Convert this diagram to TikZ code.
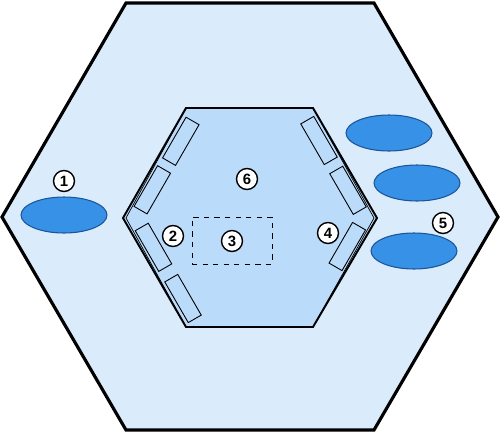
\documentclass[tikz,border=0pt]{standalone}
\usepackage{fontspec}
\setmainfont{Liberation Sans}
\usetikzlibrary{shapes.geometric}
\definecolor{outerblue}{HTML}{DAEBFC}
\definecolor{innerblue}{HTML}{BBDBFA}
\definecolor{poolblue}{HTML}{3791E6}
\definecolor{pooledge}{HTML}{1B5499}
\tikzset{numnode/.style={fill=white,circle,draw,line width=0.8pt,inner sep=0pt,minimum size=0.42cm,font=\fontsize{8.5}{10}\selectfont\bfseries}}
\tikzset{benchnode/.style={draw,line width=0.5pt,fill=innerblue,inner sep=0pt,minimum width=0.94cm,minimum height=0.3cm}}
\tikzset{poolnode/.style={ellipse,draw=pooledge,line width=0.6pt,fill=poolblue,inner sep=0pt,minimum width=1.72cm,minimum height=0.72cm}}

\begin{document}
\begin{tikzpicture}[x=0.02cm,y=-0.02cm]
          \useasboundingbox (0,0) rectangle (500,433);

          % Halls
          \draw [fill=outerblue,line width=1.8pt,line join=miter]
              (2,217) -- (126,3) -- (374,3) -- (498,217) -- (374,430) -- (126,430) -- cycle;
          \draw [fill=innerblue,line width=1.1pt]
              (123,218) -- (186,108) -- (313,108) -- (377,218) -- (313,327) -- (186,327) -- cycle;
          \draw [line width=0.4pt]
              (186,108) -- (126,218) -- (186,327);
          \draw [line width=0.4pt]
              (313,108) -- (374,218) -- (313,327);

          % Benches
          \begin{scope}[every node/.style={benchnode}]
              \node [rotate=60] (B1) at (180.8,141.3) {};
              \node [rotate=60] (B2) at (152.3,189.8) {};
              \node [rotate=-60] (B3) at (153.5,247.3) {};
              \node [rotate=-60] (B4) at (183,298.5) {};
              \node [rotate=-60] (B5) at (319,140.5) {};
              \node [rotate=-60] (B6) at (348,190.3) {};
              \node [rotate=60] (B7) at (347.3,246.5) {};
          \end{scope}

          % Pools
          \begin{scope}[every node/.style={poolnode}]
              \node (P1) at (64,215) {};
              \node (P2) at (389,133) {};
              \node (P3) at (417,183) {};
              \node (P4) at (414,251) {};
          \end{scope}

          % Stage
          \node [draw,dashed,line width=0.5pt,minimum width=1.6cm,minimum height=0.94cm,inner sep=0pt] (stage) at (232,240.5) {};

          % Numbers
          \begin{scope}[every node/.style={numnode}]
              \node (N1) at (64,181) {1};
              \node (N2) at (173,236) {2};
              \node (N3) at (232,241) {3};
              \node (N4) at (328,233) {4};
              \node (N5) at (443,223) {5};
              \node (N6) at (247,179) {6};
          \end{scope}
\end{tikzpicture}
\end{document}
